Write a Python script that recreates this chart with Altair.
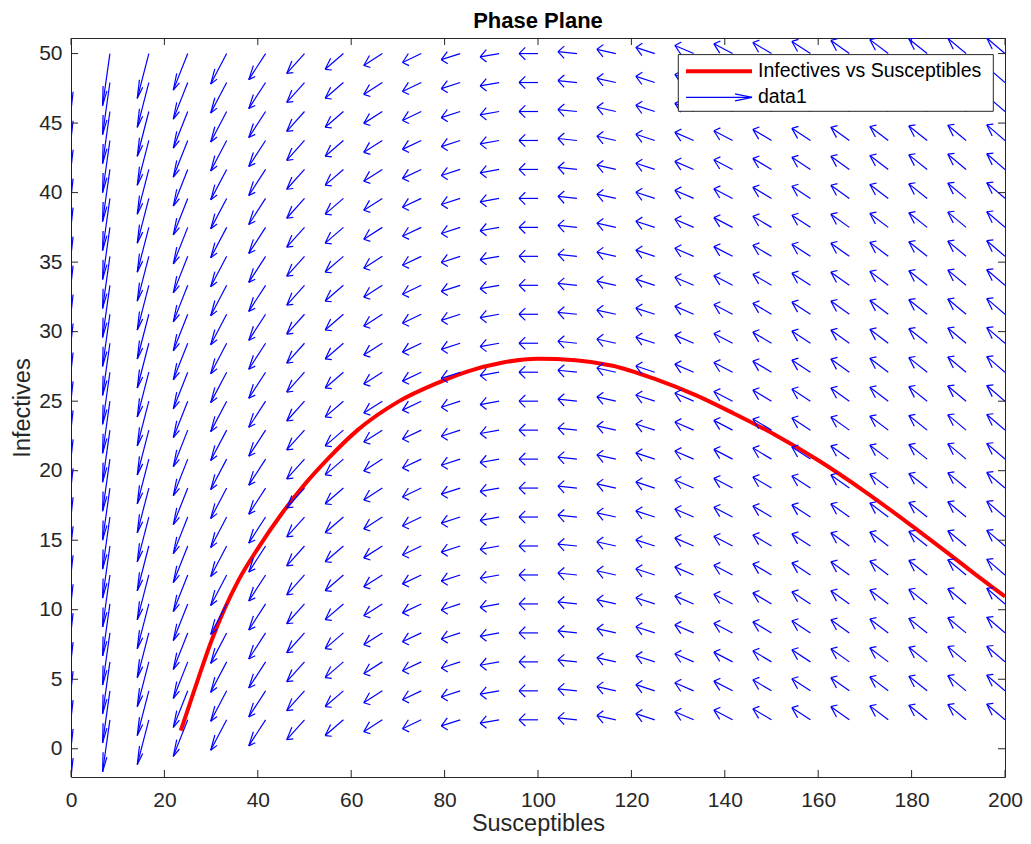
import altair as alt
import pandas as pd

# ---- data ----
S_GRID = [0.0, 8.333, 16.667, 25.0, 33.333, 41.667, 50.0, 58.333, 66.667, 75.0,
          83.333, 91.667, 100.0, 108.333, 116.667, 125.0, 133.333, 141.667, 150.0,
          158.333, 166.667, 175.0, 183.333, 191.667, 200.0]
I_GRID = [2.083, 4.167, 6.25, 8.333, 10.417, 12.5, 14.583, 16.667, 18.75, 20.833,
          22.917, 25.0, 27.083, 29.167, 31.25, 33.333, 35.417, 37.5, 39.583, 41.667,
          43.75, 45.833, 47.917, 50.0]
# arrow components (data units) for each S column, same for every row
ARROW_U = [0.0, -1.573, -2.476, -3.094, -3.420, -3.602, -3.801, -3.900, -3.969, -4.009,
           -4.036, -4.053, -4.060, -4.058, -4.049, -4.036, -4.018, -3.999, -3.981, -3.963,
           -3.948, -3.934, -3.920, -3.909, -3.902]
ARROW_V = [-4.10, -3.744, -3.218, -2.630, -2.189, -1.873, -1.426, -1.131, -0.853, -0.641,
           -0.440, -0.243, 0.0, 0.142, 0.304, 0.444, 0.583, 0.700, 0.796, 0.872,
           0.947, 1.003, 1.047, 1.095, 1.124]

CURVE_S = [23.5, 25.0, 27.5, 30.0, 32.8, 36.0, 40.0, 45.0, 50.0, 55.0, 61.3, 70.0,
           78.4, 85.0, 92.0, 100.0, 108.0, 116.0, 125.0, 134.0, 142.0, 151.2, 160.0,
           170.0, 180.0, 187.5, 195.0, 200.0]
CURVE_I = [1.3, 2.8, 5.3, 7.7, 10.0, 12.2, 14.4, 16.85, 19.0, 20.85, 22.9, 24.95,
           26.3, 27.15, 27.75, 28.05, 27.95, 27.55, 26.6, 25.4, 24.1, 22.5, 20.75,
           18.5, 16.05, 14.15, 12.2, 10.95]

X_TICKS = [0, 20, 40, 60, 80, 100, 120, 140, 160, 180, 200]
Y_TICKS = [0, 5, 10, 15, 20, 25, 30, 35, 40, 45, 50]

X_DOMAIN = [0, 200]
Y_DOMAIN = [-2.03, 51.12]

FONT = "Liberation Sans"
AX = "#262626"
W, H = 934, 739
PAD_L, PAD_T, PAD_R, PAD_B = 63, 30, 18, 59

# ---- quiver segments (shaft + two barbs, MATLAB style) ----
alpha, beta = 0.33, 0.33
rows = []
for s, u, v in zip(S_GRID, ARROW_U, ARROW_V):
    for i in I_GRID:
        hx, hy = s + u, i + v
        b1x, b1y = hx - alpha * (u + beta * v), hy - alpha * (v - beta * u)
        b2x, b2y = hx - alpha * (u - beta * v), hy - alpha * (v + beta * u)
        rows.append({"x": s, "y": i, "x2": hx, "y2": hy})
        rows.append({"x": b1x, "y": b1y, "x2": hx, "y2": hy})
        rows.append({"x": b2x, "y": b2y, "x2": hx, "y2": hy})
quiver_df = pd.DataFrame(rows)
curve_df = pd.DataFrame({"x": CURVE_S, "y": CURVE_I})

xscale = alt.Scale(domain=X_DOMAIN, nice=False, zero=False)
yscale = alt.Scale(domain=Y_DOMAIN, nice=False, zero=False)
xaxis = alt.Axis(values=X_TICKS, tickSize=0, domain=False, grid=False,
                 labelFont=FONT, labelFontSize=21, labelColor=AX, labelPadding=12,
                 labelFlush=False, title="Susceptibles", titleFont=FONT,
                 titleFontSize=23.5, titleFontWeight="normal", titleColor=AX,
                 titlePadding=1)
yaxis = alt.Axis(values=Y_TICKS, tickSize=0, domain=False, grid=False,
                 labelFont=FONT, labelFontSize=21, labelColor=AX, labelPadding=9,
                 labelFlush=False, title="Infectives", titleFont=FONT,
                 titleFontSize=23.5, titleFontWeight="normal", titleColor=AX,
                 titlePadding=4)

curve = alt.Chart(curve_df).mark_line(color="#ff0000", strokeWidth=4, clip=True,
                                      interpolate="monotone").encode(
    x=alt.X("x:Q", scale=xscale, axis=xaxis),
    y=alt.Y("y:Q", scale=yscale, axis=yaxis),
)

quiver = alt.Chart(quiver_df).mark_rule(color="#0000ff", strokeWidth=1.2, clip=True).encode(
    x=alt.X("x:Q", scale=xscale, axis=xaxis),
    y=alt.Y("y:Q", scale=yscale, axis=yaxis),
    x2="x2:Q",
    y2="y2:Q",
)

# inward ticks on all four sides
xt = pd.DataFrame({"x": X_TICKS})
yt = pd.DataFrame({"y": Y_TICKS})
tick_len = 7
ticks_bottom = alt.Chart(xt).mark_rule(color=AX, strokeWidth=1).encode(
    x=alt.X("x:Q", scale=xscale, axis=xaxis), y=alt.value(H), y2=alt.value(H - tick_len))
ticks_top = alt.Chart(xt).mark_rule(color=AX, strokeWidth=1).encode(
    x=alt.X("x:Q", scale=xscale, axis=xaxis), y=alt.value(0), y2=alt.value(tick_len))
ticks_left = alt.Chart(yt).mark_rule(color=AX, strokeWidth=1).encode(
    y=alt.Y("y:Q", scale=yscale, axis=yaxis), x=alt.value(0), x2=alt.value(tick_len))
ticks_right = alt.Chart(yt).mark_rule(color=AX, strokeWidth=1).encode(
    y=alt.Y("y:Q", scale=yscale, axis=yaxis), x=alt.value(W), x2=alt.value(W - tick_len))

# legend (drawn as decoration)
one = pd.DataFrame({"a": [0]})
lx0, lx1, ly0, ly1 = 607.3, 922.3, 16.6, 73.3
leg_box = alt.Chart(one).mark_rect(fill="white", stroke=AX, strokeWidth=1).encode(
    x=alt.value(lx0), x2=alt.value(lx1), y=alt.value(ly0), y2=alt.value(ly1))
leg_red = alt.Chart(one).mark_rule(color="#ff0000", strokeWidth=4).encode(
    x=alt.value(615), x2=alt.value(681), y=alt.value(33.3), y2=alt.value(33.3))
leg_blue = alt.Chart(one).mark_rule(color="#0000ff", strokeWidth=1.2).encode(
    x=alt.value(615), x2=alt.value(681), y=alt.value(59.3), y2=alt.value(59.3))
leg_b1 = alt.Chart(one).mark_rule(color="#0000ff", strokeWidth=1.2).encode(
    x=alt.value(664), x2=alt.value(681), y=alt.value(55.8), y2=alt.value(59.3))
leg_b2 = alt.Chart(one).mark_rule(color="#0000ff", strokeWidth=1.2).encode(
    x=alt.value(664), x2=alt.value(681), y=alt.value(62.8), y2=alt.value(59.3))
leg_t1 = alt.Chart(one).mark_text(text="Infectives vs Susceptibles", font=FONT, fontSize=19.5,
                                  color="#000000", align="left", baseline="middle").encode(
    x=alt.value(687), y=alt.value(33.3))
leg_t2 = alt.Chart(one).mark_text(text="data1", font=FONT, fontSize=19.5,
                                  color="#000000", align="left", baseline="middle").encode(
    x=alt.value(687), y=alt.value(59.3))

chart = alt.layer(
    curve, quiver, ticks_bottom, ticks_top, ticks_left, ticks_right,
    leg_box, leg_red, leg_blue, leg_b1, leg_b2, leg_t1, leg_t2,
).properties(
    width=W, height=H,
    autosize=alt.AutoSizeParams(type="none"),
    padding={"left": PAD_L, "top": PAD_T, "right": PAD_R, "bottom": PAD_B},
    title=alt.TitleParams("Phase Plane", font=FONT, fontSize=22, fontWeight="bold",
                          color="#000000", anchor="middle", offset=5),
).configure_view(stroke=AX, strokeWidth=1)

chart.save("out.html", embed_options={"renderer": "svg", "actions": False})
